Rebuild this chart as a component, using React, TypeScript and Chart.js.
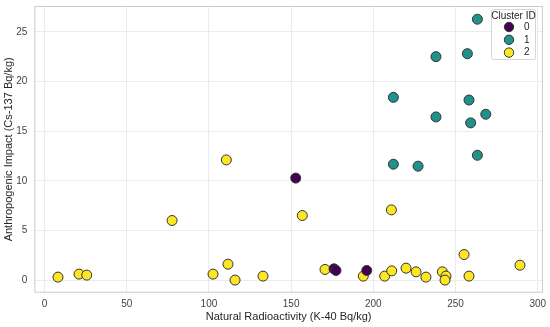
import React, { useEffect, useRef } from "react";
import { Chart, registerables } from "chart.js";

Chart.register(...registerables);

const cluster0X = [152.8, 176.1, 177.3, 196.0];
const cluster0Y = [10.27, 1.13, 0.97, 0.97];

const cluster1X = [263.3, 238.1, 257.2, 212.2, 258.2, 238.1, 268.4, 259.2, 263.3, 212.2, 227.2];
const cluster1Y = [26.27, 22.5, 22.8, 18.4, 18.13, 16.43, 16.7, 15.83, 12.57, 11.67, 11.47];

const cluster2X = [8.2, 21.0, 25.7, 77.6, 102.5, 111.6, 115.9, 132.9, 110.6, 156.8, 170.6, 193.9, 206.9, 211.2, 211.0, 219.9, 226.0, 232.0, 242.0, 244.2, 243.6, 255.2, 258.2, 289.2];
const cluster2Y = [0.3, 0.6, 0.5, 6.0, 0.6, 1.6, 0.0, 0.4, 12.1, 6.5, 1.07, 0.4, 0.4, 0.93, 7.07, 1.2, 0.83, 0.3, 0.83, 0.4, 0.0, 2.57, 0.4, 1.5];

const clusterLabels = ["0", "1", "2"];
const clusterColors = ["#440154", "#21918c", "#fde725"];
const xTicks = [0, 50, 100, 150, 200, 250, 300];
const yTicks = [0, 5, 10, 15, 20, 25];
const xTitle = "Natural Radioactivity (K-40 Bq/kg)";
const yTitle = "Anthropogenic Impact (Cs-137 Bq/kg)";
const legendTitle = "Cluster ID";

const FONT = "'Liberation Sans', Arial, sans-serif";

const toPts = (xs: number[], ys: number[]) => xs.map((x, i) => ({ x, y: ys[i] }));

export default function App() {
  const ref = useRef<HTMLCanvasElement>(null);
  useEffect(() => {
    const canvas = ref.current!;
    const frameLegend = {
      id: "frameLegend",
      beforeDatasetsDraw(chart: any) {
        const { ctx, chartArea: a } = chart;
        ctx.save();
        ctx.strokeStyle = "#cccccc";
        ctx.lineWidth = 1;
        ctx.strokeRect(a.left + 0.5, a.top + 0.5, a.right - a.left - 1, a.bottom - a.top - 1);
        ctx.restore();
      },
      afterDraw(chart: any) {
        const { ctx } = chart;
        ctx.save();
        const bx = 491.5, by = 9.5, bw = 44, bh = 50;
        ctx.fillStyle = "rgba(255,255,255,0.85)";
        ctx.strokeStyle = "#d6d6d6";
        ctx.lineWidth = 1;
        ctx.beginPath();
        (ctx as any).roundRect(bx, by, bw, bh, 2);
        ctx.fill();
        ctx.stroke();
        ctx.fillStyle = "#262626";
        ctx.font = `10px ${FONT}`;
        ctx.textAlign = "center";
        ctx.textBaseline = "middle";
        ctx.fillText(legendTitle, bx + bw / 2, 16.5);
        clusterLabels.forEach((lab, i) => {
          const cy = 27 + i * 12.8;
          ctx.beginPath();
          ctx.arc(509, cy, 4.7, 0, Math.PI * 2);
          ctx.fillStyle = clusterColors[i];
          ctx.fill();
          ctx.strokeStyle = "#333333";
          ctx.lineWidth = 1;
          ctx.stroke();
          ctx.fillStyle = "#262626";
          ctx.textAlign = "left";
          ctx.font = `10px ${FONT}`;
          ctx.fillText(lab, 524, cy);
        });
        ctx.restore();
      },
    };
    const mk = (i: number, xs: number[], ys: number[]) => ({
      label: clusterLabels[i],
      data: toPts(xs, ys),
      backgroundColor: clusterColors[i],
      borderColor: "#333333",
      borderWidth: 1,
      pointRadius: 5,
    });
    const chart = new Chart(canvas, {
      type: "scatter",
      data: {
        datasets: [
          mk(0, cluster0X, cluster0Y),
          mk(1, cluster1X, cluster1Y),
          mk(2, cluster2X, cluster2Y),
        ],
      },
      options: {
        responsive: false,
        animation: false,
        layout: { padding: { top: 4, right: 7, left: 0, bottom: 0 } },
        plugins: { legend: { display: false }, tooltip: { enabled: false } },
        scales: {
          x: {
            type: "linear",
            min: -6.2,
            max: 303.2,
            afterBuildTicks: (s: any) => { s.ticks = xTicks.map((v) => ({ value: v })); },
            afterFit: (s: any) => { s.height = 34.3; s.paddingLeft = 0; s.paddingRight = 0; s.paddingTop = 0; s.paddingBottom = 0; },
            grid: { color: "#ebebeb", drawTicks: false },
            border: { display: false },
            ticks: { color: "#444444", font: { family: FONT, size: 10 }, padding: 6 },
            title: { display: true, text: xTitle, color: "#262626", font: { family: FONT, size: 11 }, padding: { top: 3, bottom: 3 } },
          },
          y: {
            type: "linear",
            min: -1.27,
            max: 27.6,
            afterBuildTicks: (s: any) => { s.ticks = yTicks.map((v) => ({ value: v })); },
            afterFit: (s: any) => { s.width = 34.3; s.paddingLeft = 0; s.paddingRight = 0; s.paddingTop = 0; s.paddingBottom = 0; },
            grid: { color: "#ebebeb", drawTicks: false },
            border: { display: false },
            ticks: { color: "#444444", font: { family: FONT, size: 10 }, padding: 7 },
            title: { display: true, text: yTitle, color: "#262626", font: { family: FONT, size: 11 }, padding: { top: 2, bottom: 0 } },
          },
        },
      },
      plugins: [frameLegend],
    } as any);
    return () => chart.destroy();
  }, []);
  return (
    <div style={{ position: "fixed", left: 0, top: 0, width: 550, height: 327, background: "#fff" }}>
      <canvas ref={ref} width={550} height={327} style={{ display: "block" }} />
    </div>
  );
}
